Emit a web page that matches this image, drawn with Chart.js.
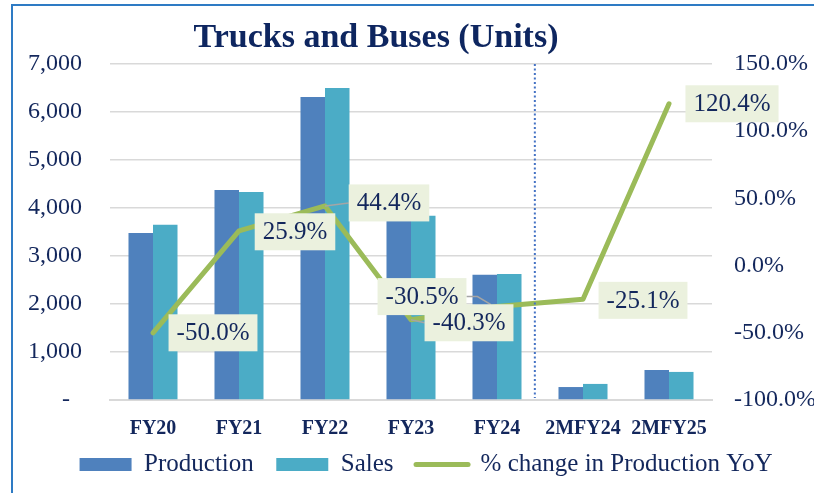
<!DOCTYPE html>
<html lang="en">
<head>
  <meta charset="utf-8">
  <title>Trucks and Buses (Units)</title>
  <style>
    html, body { margin: 0; padding: 0; background: #fff; overflow: hidden; }
    #frame { position: absolute; left: 11px; top: 4px; width: 900px; height: 600px;
             border-left: 2px solid #2E7BC4; border-top: 2px solid #2E7BC4; }
    #title { position: absolute; left: 0; width: 752px; top: 19px; text-align: center;
             font: bold 34px/34px "Liberation Serif", serif; color: #0E2660; }
    #wrap { position: absolute; left: 0; top: 0; width: 814px; height: 493px; }
  </style>
</head>
<body>
<div id="frame"></div>
<div id="wrap"><canvas id="myChart"></canvas></div>
<div id="title">Trucks and Buses (Units)</div>

<script src="https://cdn.jsdelivr.net/npm/chart.js"></script>
<script>
  // data
  const categories = ['FY20', 'FY21', 'FY22', 'FY23', 'FY24', '2MFY24', '2MFY25'];
  const production = [3480, 4375, 6310, 3820, 2610, 270, 625];
  const sales = [3650, 4335, 6500, 3840, 2625, 335, 585];
  const prodChange = [-50.0, 25.9, 44.4, -40.3, -30.5, -25.1, 120.4];
  const changeLabels = ['-50.0%', '25.9%', '44.4%', '-40.3%', '-30.5%', '-25.1%', '120.4%'];

  // where each % label box sits relative to its point (Excel labels were moved by hand)
  const labelOffsets = [[60, 0], [56, 1], [64, -3], [58, 3], [-75, -10], [60, 1], [63, 0]];
  const labelLeaders = [false, false, true, true, true, false, false];
  const labelDrawOrder = [0, 1, 2, 4, 3, 5, 6];

  const navy = '#13275C';
  const serif = '"Liberation Serif", serif';

  const yoyLabels = {
    id: 'yoyLabels',
    afterLayout(chart) {
      // the Excel legend sits a bit right of the canvas centre
      chart.legend.left += 19;
      chart.legend.right += 19;
    },
    afterDatasetsDraw(chart) {
      const ctx = chart.ctx;
      const area = chart.chartArea;
      const x = chart.scales.x;

      // dotted separator between full years and 2M periods
      const sepX = x.getPixelForValue(4) + (x.getPixelForValue(5) - x.getPixelForValue(4)) * 0.44;
      ctx.save();
      ctx.strokeStyle = '#4472C4';
      ctx.lineWidth = 2;
      ctx.setLineDash([2, 2.5]);
      ctx.beginPath();
      ctx.moveTo(sepX, area.top);
      ctx.lineTo(sepX, area.bottom - 2);
      ctx.stroke();
      ctx.restore();

      const meta = chart.getDatasetMeta(0);
      ctx.save();
      ctx.font = '25px ' + serif;
      ctx.textAlign = 'center';
      ctx.textBaseline = 'middle';
      labelDrawOrder.forEach(i => {
        const pt = meta.data[i];
        const cx = pt.x + labelOffsets[i][0];
        const cy = pt.y + labelOffsets[i][1];
        const w = ctx.measureText(changeLabels[i]).width + 16;
        const h = 37;
        const left = cx - w / 2, right = cx + w / 2;

        if (labelLeaders[i]) {
          ctx.strokeStyle = '#A5A5A5';
          ctx.lineWidth = 1.5;
          ctx.beginPath();
          if (pt.x > right) {
            ctx.moveTo(right, cy);
            ctx.lineTo(right + 11, cy);
            ctx.lineTo(pt.x - 6, pt.y - 2);
          } else {
            ctx.moveTo(pt.x, pt.y);
            ctx.lineTo(left, cy);
          }
          ctx.stroke();
        }

        ctx.fillStyle = '#EBF1DE';
        ctx.fillRect(left, cy - h / 2, w, h);
        ctx.fillStyle = navy;
        ctx.fillText(changeLabels[i], cx, cy + 1);
      });
      ctx.restore();
    }
  };

  const chart = new Chart(document.getElementById('myChart'), {
    data: {
      labels: categories,
      datasets: [{
        type: 'line',
        label: '% change in Production YoY',
        data: prodChange,
        yAxisID: 'y1',
        borderColor: '#9BBB59',
        backgroundColor: '#9BBB59',
        borderWidth: 5,
        borderJoinStyle: 'round',
        borderCapStyle: 'round',
        pointRadius: 0,
        tension: 0,
        order: 0
      }, {
        type: 'bar',
        label: 'Production',
        data: production,
        yAxisID: 'y',
        backgroundColor: '#4F81BD',
        order: 1
      }, {
        type: 'bar',
        label: 'Sales',
        data: sales,
        yAxisID: 'y',
        backgroundColor: '#4BACC6',
        order: 1
      }]
    },
    options: {
      responsive: true,
      maintainAspectRatio: false,
      animation: false,
      categoryPercentage: 0.57,
      barPercentage: 1.0,
      layout: { padding: { left: 0, right: 0, top: 64, bottom: 6 } },
      plugins: {
        title: { display: false },
        tooltip: { enabled: false },
        legend: {
          position: 'bottom',
          labels: {
            font: { family: serif, size: 25 },
            color: navy,
            usePointStyle: true,
            pointStyleWidth: 52,
            boxHeight: 13,
            padding: 10,
            generateLabels(chart) {
              const order = [1, 2, 0];
              return order.map((i, k) => {
                const ds = chart.data.datasets[i];
                const isLine = ds.type === 'line';
                return {
                  // trailing spaces widen the gap to the next legend entry
                  text: k < 2 ? ds.label + '  ' : ds.label,
                  datasetIndex: i,
                  fillStyle: ds.backgroundColor,
                  strokeStyle: isLine ? ds.borderColor : ds.backgroundColor,
                  lineWidth: isLine ? 5 : 0,
                  lineCap: 'round',
                  pointStyle: isLine ? 'line' : 'rect',
                  fontColor: navy,
                  hidden: false
                };
              });
            }
          }
        }
      },
      scales: {
        x: {
          afterFit(scale) { scale.height = 42; },
          grid: { display: false, drawTicks: false },
          border: { display: true, color: '#D9D9D9', width: 2 },
          ticks: { color: navy, font: { family: serif, size: 20, weight: 'bold' }, padding: 17, maxRotation: 0 }
        },
        y: {
          position: 'left',
          min: 0,
          max: 7000,
          afterFit(scale) { scale.width = 110; },
          grid: { color: '#D9D9D9', lineWidth: 1.5, drawTicks: false },
          border: { display: false },
          ticks: {
            stepSize: 1000,
            padding: 28,
            color: navy,
            font: { family: serif, size: 24 },
            callback: v => v === 0 ? '-  ' : v.toLocaleString('en-US')
          }
        },
        y1: {
          position: 'right',
          min: -100,
          max: 150,
          afterFit(scale) { scale.width = 102; },
          grid: { display: false, drawTicks: false },
          border: { display: false },
          ticks: {
            stepSize: 50,
            padding: 22,
            color: navy,
            font: { family: serif, size: 24 },
            callback: v => v.toFixed(1) + '%'
          }
        }
      }
    },
    plugins: [yoyLabels]
  });
</script>
</body>
</html>
